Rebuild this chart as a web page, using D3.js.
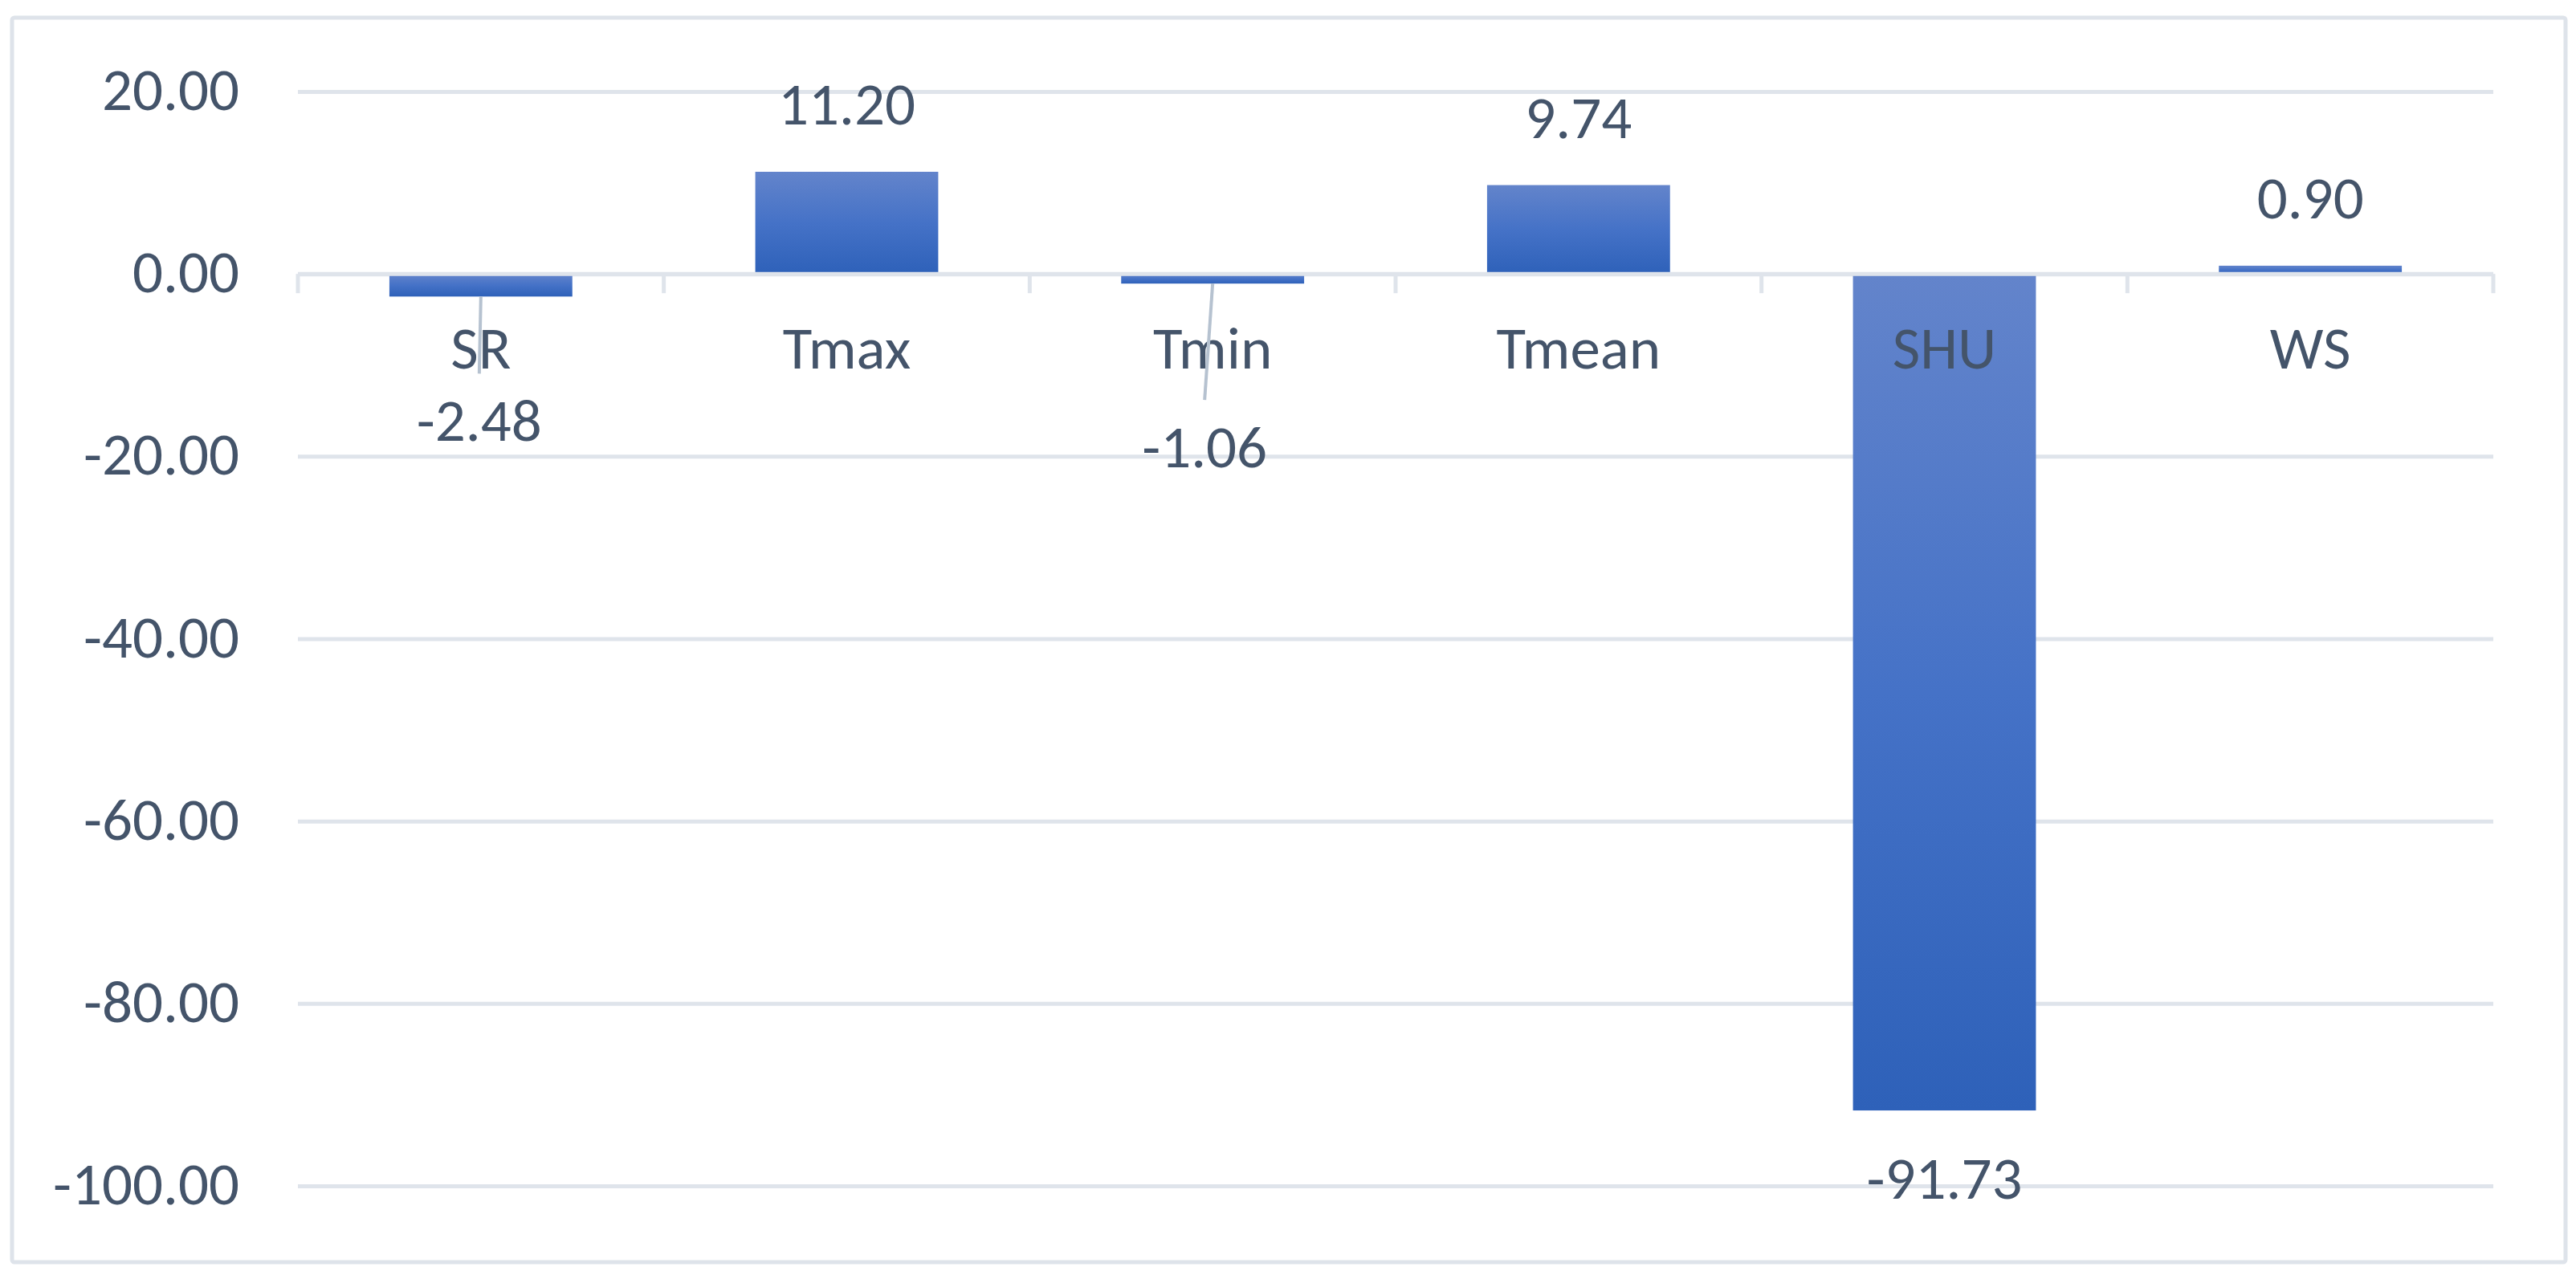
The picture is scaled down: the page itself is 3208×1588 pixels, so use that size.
<!DOCTYPE html>
<html>
<head>
<meta charset="utf-8">
<script src="https://cdn.jsdelivr.net/npm/d3@7"></script>
<style>
  body { margin: 0; background: #fff; }
  text { font-family: "Liberation Sans Narrow", "Carlito", "Lato", sans-serif; fill: #44546a; }
</style>
</head>
<body>
<div id="chart"></div>
<script>
// Data
const categories = ["SR", "Tmax", "Tmin", "Tmean", "SHU", "WS"];
const values = [-2.48, 11.20, -1.06, 9.74, -91.73, 0.90];
const yTicks = [20, 0, -20, -40, -60, -80, -100];

const W = 3208, H = 1588;
const margin = { top: 114, right: 103, bottom: 111, left: 371 },
      width = W - margin.left - margin.right,
      height = H - margin.top - margin.bottom;
const fontSize = 75;

const svgRoot = d3.select("#chart")
    .append("svg")
    .attr("width", W)
    .attr("height", H);

svgRoot.append("rect")
    .attr("width", W).attr("height", H)
    .attr("fill", "#fff");

// outer chart border
svgRoot.append("rect")
    .attr("x", 15).attr("y", 22)
    .attr("width", 3180).attr("height", 1550)
    .attr("rx", 3)
    .attr("fill", "none")
    .attr("stroke", "#dee3ea")
    .attr("stroke-width", 5);

// gradient for bars
const defs = svgRoot.append("defs");
const grad = defs.append("linearGradient")
    .attr("id", "barGrad")
    .attr("x1", 0).attr("y1", 0).attr("x2", 0).attr("y2", 1);
grad.append("stop").attr("offset", "0%").attr("stop-color", "#6384cb");
grad.append("stop").attr("offset", "50%").attr("stop-color", "#4572c7");
grad.append("stop").attr("offset", "100%").attr("stop-color", "#2e61b9");

const svg = svgRoot.append("g")
    .attr("transform", `translate(${margin.left},${margin.top})`);

// Scales
const x = d3.scaleBand()
    .domain(categories)
    .range([0, width])
    .padding(0);

const y = d3.scaleLinear()
    .domain([-100, 20])
    .range([height, 0]);

// Y axis + gridlines
const yAxis = svg.append("g")
    .call(d3.axisLeft(y)
        .tickValues(yTicks)
        .tickSize(-width)
        .tickPadding(73)
        .tickFormat(d => d.toFixed(2)));
yAxis.select(".domain").remove();
yAxis.selectAll("line")
    .attr("stroke", "#dfe4eb")
    .attr("stroke-width", 5);
yAxis.selectAll("text")
    .attr("font-size", fontSize)
    .attr("fill", "#44546a")
    .attr("dy", "0.3em")
    .style("font-family", "'Liberation Sans Narrow', Carlito, Lato, sans-serif");

// Bars
const barW = x.bandwidth() * 0.5;
svg.selectAll("rect.bar")
    .data(values)
    .enter()
    .append("rect")
    .attr("class", "bar")
    .attr("x", (d, i) => x(categories[i]) + x.bandwidth() * 0.25)
    .attr("y", d => y(Math.max(0, d)))
    .attr("width", barW)
    .attr("height", d => Math.abs(y(d) - y(0)))
    .attr("fill", "url(#barGrad)");

// zero axis line and category ticks
svg.append("line")
    .attr("x1", 0).attr("x2", width)
    .attr("y1", y(0)).attr("y2", y(0))
    .attr("stroke", "#dfe4eb")
    .attr("stroke-width", 5);

const edges = categories.map(c => x(c)).concat([width]);
svg.selectAll("line.tick-mark")
    .data(edges)
    .enter()
    .append("line")
    .attr("class", "tick-mark")
    .attr("x1", d => d).attr("x2", d => d)
    .attr("y1", y(0)).attr("y2", y(0) + 24)
    .attr("stroke", "#dfe4eb")
    .attr("stroke-width", 5);

// Category labels
svg.selectAll("text.cat")
    .data(categories)
    .enter()
    .append("text")
    .attr("class", "cat")
    .attr("x", d => x(d) + x.bandwidth() / 2)
    .attr("y", y(0) + 118)
    .attr("text-anchor", "middle")
    .attr("font-size", fontSize)
    .text(d => d);

// Data labels (SR and Tmin were dragged away in the original, with leader lines)
const moved = { SR: { dx: -2, dy: 180 }, Tmin: { dx: -10, dy: 229 } };

values.forEach((v, i) => {
    const c = categories[i];
    const cx = x(c) + x.bandwidth() / 2;
    let lx = cx, ly;
    if (moved[c]) {
        lx = cx + moved[c].dx;
        ly = y(v) + moved[c].dy;
        svg.append("line")
            .attr("x1", cx).attr("y1", y(v))
            .attr("x2", lx).attr("y2", ly - 84)
            .attr("stroke", "#b6c2d0")
            .attr("stroke-width", 4);
    } else if (v >= 0) {
        ly = y(v) - 59;
    } else {
        ly = y(v) + 110;
    }
    svg.append("text")
        .attr("x", lx)
        .attr("y", ly)
        .attr("text-anchor", "middle")
        .attr("font-size", fontSize)
        .text(v.toFixed(2));
});
</script>
</body>
</html>
